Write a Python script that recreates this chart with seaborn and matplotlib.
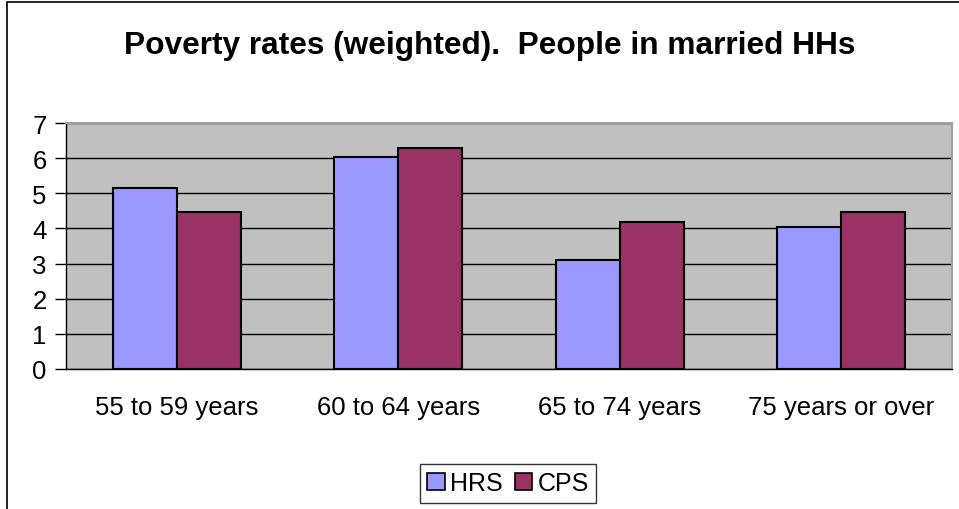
import matplotlib
matplotlib.use("Agg")
import matplotlib.pyplot as plt
import seaborn as sns
import pandas as pd
from matplotlib.patches import Rectangle, Patch

# values
age_groups = ["55 to 59 years", "60 to 64 years", "65 to 74 years", "75 years or over"]
hrs_rates = [5.16, 6.02, 3.10, 4.03]
cps_rates = [4.47, 6.29, 4.19, 4.47]
series_names = ["HRS", "CPS"]
series_colors = ["#9999FF", "#993366"]

df = pd.DataFrame({
    "age": age_groups * 2,
    "rate": hrs_rates + cps_rates,
    "source": ["HRS"] * len(age_groups) + ["CPS"] * len(age_groups),
})

sns.set_style("white")
plt.rcParams["font.family"] = ["Liberation Sans", "DejaVu Sans"]
plt.rcParams["text.color"] = "black"
plt.rcParams["xtick.color"] = "black"
plt.rcParams["ytick.color"] = "black"

fig = plt.figure(figsize=(9.59, 5.10), dpi=100)
ax = fig.add_axes([66 / 959, 1 - 370 / 510, (952 - 66) / 959, (370 - 124) / 510])

sns.barplot(data=df, x="age", y="rate", hue="source", order=age_groups,
            hue_order=series_names, palette=series_colors, width=0.578,
            edgecolor="black", linewidth=1.5, saturation=1, ax=ax, legend=False)

ax.set_facecolor("#C0C0C0")
ax.set_ylim(0, 7)
ax.set_xlim(-0.5, 3.5)
ax.set_yticks(range(0, 8))
ax.yaxis.grid(True, color="black", linewidth=1)
ax.set_axisbelow(True)
ax.set_xlabel("")
ax.set_ylabel("")

# category boundary ticks like the spreadsheet chart
ax.set_xticks([-0.5, 0.5, 1.5, 2.5, 3.5], minor=True)
ax.tick_params(axis="x", which="major", length=0, pad=19, labelsize=18.5,
               labelcolor="black")
ax.tick_params(axis="x", which="minor", length=8, width=1, color="#404040")
ax.tick_params(axis="y", which="major", length=8, width=1, pad=6, labelsize=18.5,
               left=True, color="black", labelcolor="black")

for side in ["left", "bottom"]:
    ax.spines[side].set_color("black")
    ax.spines[side].set_linewidth(1)
for side in ["top", "right"]:
    ax.spines[side].set_color("#A0A0A0")
    ax.spines[side].set_linewidth(1.5)

fig.text(490 / 959, 1 - 54 / 510, "Poverty rates (weighted).  People in married HHs",
         ha="center", va="baseline", fontsize=22.8, fontweight="bold", color="black")

handles = [Patch(facecolor=c, edgecolor="black", linewidth=1.2) for c in series_colors]
leg = fig.legend(handles, series_names, loc="center", bbox_to_anchor=(508 / 959, 1 - 484 / 510),
                 ncol=2, fontsize=18, frameon=True, fancybox=False, handlelength=0.7,
                 handleheight=0.7, handletextpad=0.2, columnspacing=0.5,
                 borderpad=0.3, borderaxespad=0)
leg.get_frame().set_edgecolor("black")
leg.get_frame().set_linewidth(1)
for t in leg.get_texts():
    t.set_color("black")

# outer chart border (cropped at right and bottom in the reference)
fig.patches.append(Rectangle((7 / 959, -0.05), 1.1, 1 - 3 / 510 + 0.05,
                             transform=fig.transFigure, fill=False,
                             edgecolor="black", linewidth=1.2))

fig.savefig("out.png", dpi=100)
